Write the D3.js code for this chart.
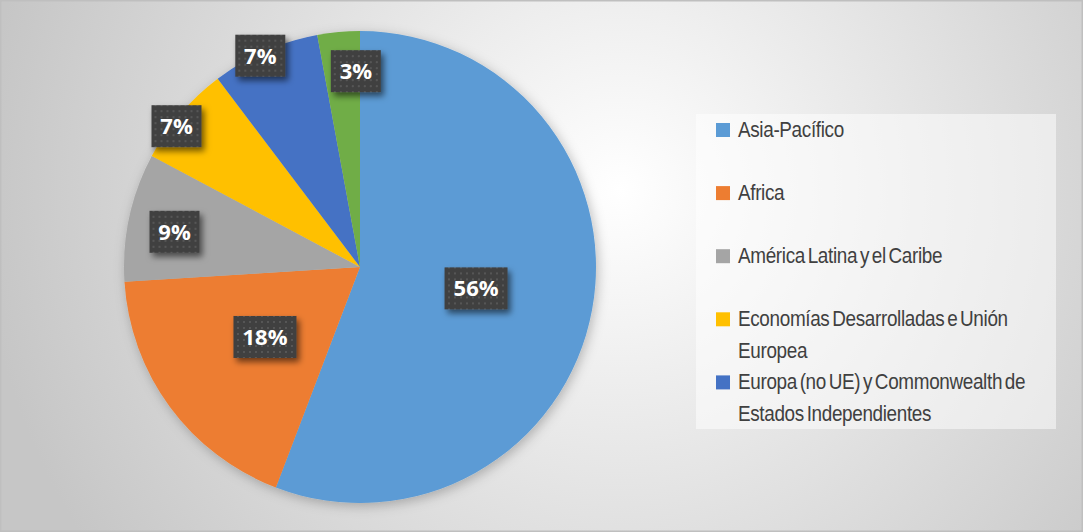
<!DOCTYPE html>
<html>
<head>
<meta charset="utf-8">
<script src="https://cdn.jsdelivr.net/npm/d3@7"></script>
<style>
  body { margin: 0; overflow: hidden; background: #fff; }
</style>
</head>
<body>
<div id="chart-area"></div>
<script>
// data
const categories = [
  'Asia-Pacífico',
  'Africa',
  'América Latina y el Caribe',
  'Economías Desarrolladas e Unión Europea',
  'Europa (no UE) y Commonwealth de Estados Independientes',
  'Estados Árabes'
];
const values = [55.8, 18.2, 8.8, 6.9, 7.4, 2.9];
const percentLabels = ['56%', '18%', '9%', '7%', '7%', '3%'];
const colors = ['#5B9BD5', '#ED7D31', '#A5A5A5', '#FFC000', '#4472C4', '#70AD47'];
const legendCount = 5; // the last entry does not fit in the legend box

// where Excel put each data label: fraction of radius, angle nudge (deg)
const labelRadius = [0.5, 0.5, 0.8, 0.98, 0.99, 0.83];
const labelNudge = [0, 0, -1.5, -3, -1.5, 4];

const W = 1083, H = 532;
const cx = 360, cy = 267, R = 236;

const svg = d3.select('#chart-area')
  .append('svg')
  .attr('width', W)
  .attr('height', H);

const defs = svg.append('defs');

const bg = defs.append('radialGradient')
  .attr('id', 'bg')
  .attr('gradientUnits', 'userSpaceOnUse')
  .attr('cx', 620).attr('cy', 190).attr('r', 640);
bg.append('stop').attr('offset', 0).attr('stop-color', '#ffffff');
bg.append('stop').attr('offset', 1).attr('stop-color', '#c6c6c6');

const dots = defs.append('pattern')
  .attr('id', 'dots')
  .attr('patternUnits', 'userSpaceOnUse')
  .attr('width', 6).attr('height', 6);
dots.append('rect').attr('width', 6).attr('height', 6).attr('fill', '#404040');
dots.append('rect').attr('x', 2).attr('y', 2).attr('width', 2).attr('height', 2).attr('fill', '#575757');

const pieShadow = defs.append('filter').attr('id', 'pieShadow')
  .attr('x', '-20%').attr('y', '-20%').attr('width', '140%').attr('height', '140%');
pieShadow.append('feDropShadow')
  .attr('dx', 2).attr('dy', 3).attr('stdDeviation', 6)
  .attr('flood-color', '#000').attr('flood-opacity', 0.25);

const boxShadow = defs.append('filter').attr('id', 'boxShadow')
  .attr('x', '-30%').attr('y', '-30%').attr('width', '170%').attr('height', '170%');
boxShadow.append('feDropShadow')
  .attr('dx', 3).attr('dy', 4).attr('stdDeviation', 3)
  .attr('flood-color', '#000').attr('flood-opacity', 0.55);

// chart area
svg.append('rect')
  .attr('width', W).attr('height', H)
  .attr('fill', 'url(#bg)');

svg.append('rect')
  .attr('x', 0.75).attr('y', 0.75)
  .attr('width', W - 1.5).attr('height', H - 1.5)
  .attr('fill', 'none')
  .attr('stroke', '#bfbfbf')
  .attr('stroke-width', 1.5);

const pie = d3.pie().sort(null).value((d) => d);
const arcs = pie(values);

const arc = d3.arc().innerRadius(0).outerRadius(R);

const g = svg.append('g')
  .attr('transform', 'translate(' + cx + ', ' + cy + ')');

g.append('g')
  .attr('filter', 'url(#pieShadow)')
  .selectAll('path')
  .data(arcs)
  .enter()
  .append('path')
  .attr('d', arc)
  .attr('fill', (d, i) => colors[i]);

// data labels
const labels = g.selectAll('.lbl')
  .data(arcs)
  .enter()
  .append('g')
  .attr('class', 'lbl')
  .attr('transform', (d, i) => {
    const a = (d.startAngle + d.endAngle) / 2 + labelNudge[i] * Math.PI / 180;
    const r = labelRadius[i] * R;
    return 'translate(' + (Math.sin(a) * r) + ', ' + (-Math.cos(a) * r) + ')';
  });

labels.append('rect')
  .attr('x', (d, i) => percentLabels[i].length > 2 ? -31.5 : -25)
  .attr('y', -21)
  .attr('width', (d, i) => percentLabels[i].length > 2 ? 63 : 50)
  .attr('height', 42)
  .attr('fill', 'url(#dots)')
  .attr('filter', 'url(#boxShadow)');

labels.append('text')
  .attr('text-anchor', 'middle')
  .attr('dy', 8)
  .attr('font-family', '"Open Sans", sans-serif')
  .attr('font-weight', 'bold')
  .attr('font-size', 22)
  .attr('fill', '#ffffff')
  .text((d, i) => percentLabels[i]);

// legend
const legend = svg.append('g');

legend.append('rect')
  .attr('x', 696).attr('y', 114)
  .attr('width', 360).attr('height', 315)
  .attr('fill', '#ffffff')
  .attr('fill-opacity', 0.5);

const wrapWidth = 312;
const squeeze = 0.86; // the original legend font is a narrow one

categories.slice(0, legendCount).forEach((name, i) => {
  const base = 137 + i * 63.1;
  legend.append('rect')
    .attr('x', 716).attr('y', base - 14)
    .attr('width', 14).attr('height', 14)
    .attr('fill', colors[i]);

  const text = legend.append('text')
    .attr('transform', 'translate(738, ' + base + ') scale(' + squeeze + ', 1)')
    .attr('font-family', '"Liberation Sans", Arial, sans-serif')
    .attr('font-size', 22)
    .attr('letter-spacing', -0.4)
    .attr('word-spacing', -2.5)
    .attr('fill', '#404040');

  // simple word wrap
  const words = name.split(' ');
  let line = [];
  let lineNo = 0;
  let tspan = text.append('tspan').attr('x', 0).attr('y', 0);
  words.forEach((w) => {
    line.push(w);
    tspan.text(line.join(' '));
    if (tspan.node().getComputedTextLength() * squeeze > wrapWidth && line.length > 1) {
      line.pop();
      tspan.text(line.join(' '));
      line = [w];
      lineNo++;
      tspan = text.append('tspan')
        .attr('x', 0)
        .attr('y', lineNo * 32)
        .text(w);
    }
  });
});
</script>
</body>
</html>
